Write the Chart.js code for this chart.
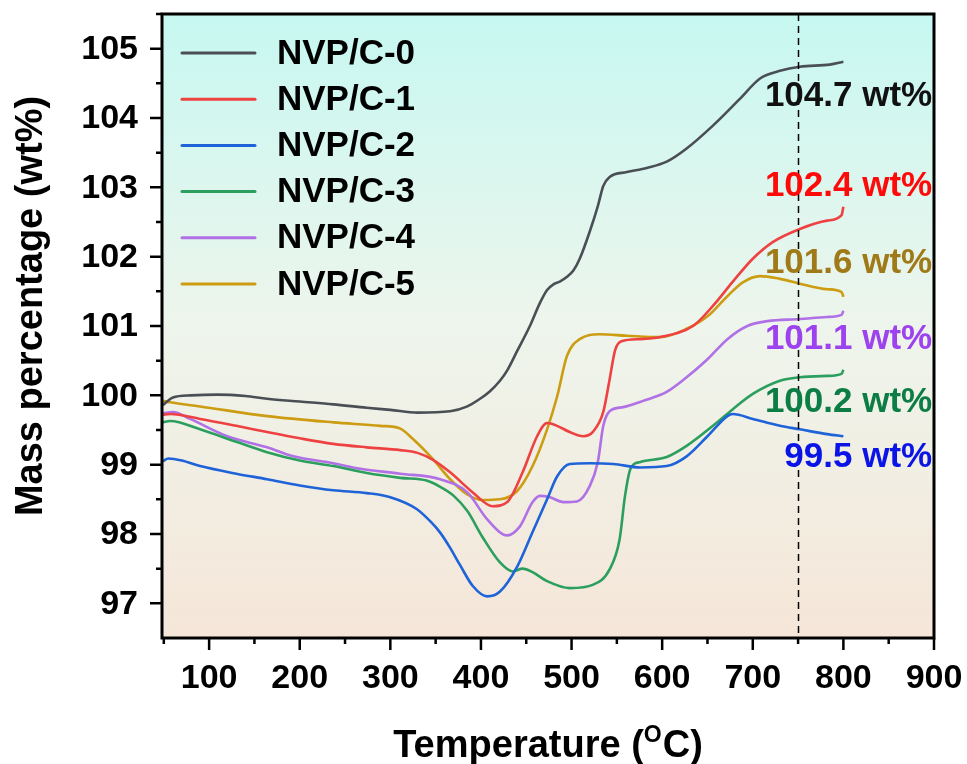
<!DOCTYPE html>
<html>
<head>
<meta charset="utf-8">
<title>TGA NVP/C</title>
<script src="https://cdn.jsdelivr.net/npm/chart.js@4.4.1/dist/chart.umd.min.js"></script>
<style>
  html, body { margin: 0; padding: 0; background: #ffffff; }
  canvas { display: block; }
</style>
</head>
<body>
<canvas id="tga" width="967" height="764"></canvas>
<script>
// series: temperature (°C) and mass (wt%)
const seriesNames = ['NVP/C-0', 'NVP/C-1', 'NVP/C-2', 'NVP/C-3', 'NVP/C-4', 'NVP/C-5'];
const seriesColors = ['#4a4f55', '#ee4242', '#1f63d9', '#2c9f5f', '#b070e6', '#cc9c12'];

const temp0 = [49, 60, 80, 109, 140, 164, 200, 237, 274, 300, 330, 366, 385, 399, 410, 421, 429, 440, 454, 465, 473, 480, 487, 495, 502, 509, 520, 529, 535, 542, 561, 583, 605, 627, 656, 686, 708, 730, 752, 785, 800];
const mass0 = [99.86, 99.97, 100.0, 100.01, 99.99, 99.95, 99.91, 99.87, 99.82, 99.79, 99.75, 99.77, 99.84, 99.95, 100.06, 100.21, 100.36, 100.64, 101.0, 101.33, 101.52, 101.60, 101.64, 101.71, 101.80, 101.97, 102.36, 102.73, 103.02, 103.15, 103.22, 103.28, 103.37, 103.56, 103.89, 104.28, 104.57, 104.68, 104.74, 104.77, 104.81];

const temp1 = [49, 57, 90, 130, 164, 200, 237, 274, 311, 330, 347, 366, 391, 413, 429, 446, 462, 473, 484, 498, 513, 524, 535, 542, 548, 555, 576, 598, 634, 656, 678, 700, 722, 752, 782, 798, 800];
const mass1 = [99.72, 99.73, 99.66, 99.56, 99.47, 99.38, 99.30, 99.25, 99.21, 99.17, 99.07, 98.89, 98.60, 98.40, 98.46, 98.89, 99.41, 99.60, 99.56, 99.47, 99.41, 99.48, 99.76, 100.23, 100.65, 100.78, 100.81, 100.84, 101.0, 101.29, 101.64, 101.97, 102.21, 102.40, 102.52, 102.60, 102.72];

const temp2 = [49, 55, 70, 90, 130, 164, 200, 237, 274, 300, 329, 345, 355, 366, 377, 391, 407, 421, 440, 457, 473, 484, 498, 520, 546, 576, 605, 627, 650, 672, 678, 700, 730, 752, 782, 800];
const mass2 = [99.05, 99.09, 99.06, 98.98, 98.87, 98.79, 98.70, 98.63, 98.59, 98.53, 98.36, 98.17, 98.02, 97.80, 97.55, 97.25, 97.10, 97.17, 97.53, 98.03, 98.50, 98.83, 99.01, 99.02, 99.01, 98.96, 98.98, 99.12, 99.41, 99.70, 99.73, 99.66, 99.56, 99.51, 99.44, 99.41];

const temp3 = [49, 57, 90, 130, 164, 200, 237, 274, 311, 340, 355, 370, 385, 402, 421, 435, 446, 457, 473, 498, 524, 542, 553, 559, 565, 576, 605, 627, 656, 678, 700, 730, 752, 782, 798, 800];
const mass3 = [99.61, 99.63, 99.51, 99.33, 99.18, 99.06, 98.98, 98.88, 98.81, 98.77, 98.68, 98.55, 98.33, 97.95, 97.59, 97.46, 97.50, 97.45, 97.32, 97.22, 97.27, 97.49, 97.92, 98.55, 98.94, 99.04, 99.11, 99.27, 99.56, 99.80, 100.02, 100.21, 100.26, 100.28, 100.31, 100.37];

const temp4 = [49, 60, 79, 120, 164, 193, 237, 267, 311, 355, 385, 407, 429, 443, 457, 465, 476, 491, 506, 520, 529, 535, 542, 557, 579, 605, 627, 650, 672, 694, 716, 752, 782, 798, 800];
const mass4 = [99.74, 99.76, 99.66, 99.41, 99.25, 99.12, 99.02, 98.94, 98.87, 98.79, 98.60, 98.21, 97.98, 98.11, 98.46, 98.55, 98.53, 98.46, 98.47, 98.69, 99.04, 99.56, 99.77, 99.83, 99.92, 100.05, 100.26, 100.52, 100.81, 101.0, 101.07, 101.10, 101.13, 101.16, 101.22];

const temp5 = [49, 57, 90, 164, 237, 289, 311, 325, 347, 366, 385, 402, 421, 440, 457, 473, 484, 495, 509, 531, 561, 598, 627, 650, 672, 689, 708, 730, 752, 782, 798, 800];
const mass5 = [99.92, 99.90, 99.84, 99.70, 99.61, 99.56, 99.52, 99.37, 99.08, 98.79, 98.57, 98.49, 98.50, 98.62, 98.98, 99.51, 99.98, 100.57, 100.81, 100.88, 100.86, 100.84, 100.96, 101.14, 101.43, 101.63, 101.72, 101.68, 101.61, 101.53, 101.49, 101.42];

const temps = [temp0, temp1, temp2, temp3, temp4, temp5];
const masses = [mass0, mass1, mass2, mass3, mass4, mass5];

// axes
const xTickLabels = [100, 200, 300, 400, 500, 600, 700, 800, 900];
const yTickLabels = [97, 98, 99, 100, 101, 102, 103, 104, 105];
const markerTemp = 750;

// end-value labels (anchored in data units, right aligned)
const endLabels = ['104.7 wt%', '102.4 wt%', '101.6 wt%', '101.1 wt%', '100.2 wt%', '99.5 wt%'];
const endLabelColors = ['#111111', '#ff0a0a', '#a07a18', '#9d42ef', '#0b7d45', '#0a14e6'];
const endLabelY = [104.31, 103.02, 101.91, 100.81, 99.90, 99.11];
const endLabelX = 898;

const FONT = '"Liberation Sans", Arial, sans-serif';

const decor = {
    id: 'decor',
    beforeDraw(chart) {
        const { ctx, chartArea: a } = chart;
        const g = ctx.createLinearGradient(0, a.top, 0, a.bottom);
        g.addColorStop(0, '#c6f8f1');
        g.addColorStop(0.5, '#eef5ec');
        g.addColorStop(1, '#f5e6d8');
        ctx.save();
        ctx.fillStyle = g;
        ctx.fillRect(a.left, a.top, a.width, a.height);
        ctx.restore();
    },
    afterDatasetsDraw(chart) {
        const { ctx, chartArea: a } = chart;
        const xs = chart.scales.x, ys = chart.scales.y;
        ctx.save();

        // dashed marker at 750 °C
        const mx = Math.round(xs.getPixelForValue(markerTemp)) + 0.5;
        ctx.strokeStyle = '#000';
        ctx.lineWidth = 1.5;
        ctx.setLineDash([7, 5]);
        ctx.beginPath();
        ctx.moveTo(mx, a.top);
        ctx.lineTo(mx, a.bottom);
        ctx.stroke();
        ctx.setLineDash([]);

        // frame
        ctx.lineWidth = 3;
        ctx.strokeRect(a.left, a.top, a.width, a.height);

        // tick marks, major + minor
        ctx.lineWidth = 2.5;
        ctx.beginPath();
        for (let v = 50; v <= 900; v += 50) {
            const px = xs.getPixelForValue(v);
            const len = v % 100 === 0 ? 12 : 6;
            ctx.moveTo(px, a.bottom);
            ctx.lineTo(px, a.bottom + len);
        }
        for (let v = 97; v <= 105.5; v += 0.5) {
            const py = ys.getPixelForValue(v);
            const len = Number.isInteger(v) ? 12 : 6;
            ctx.moveTo(a.left, py);
            ctx.lineTo(a.left - len, py);
        }
        ctx.stroke();

        // tick labels
        ctx.fillStyle = '#000';
        ctx.font = `bold 34px ${FONT}`;
        ctx.textBaseline = 'middle';
        ctx.textAlign = 'center';
        xTickLabels.forEach(v => ctx.fillText(String(v), xs.getPixelForValue(v), 679));
        ctx.textAlign = 'right';
        yTickLabels.forEach(v => ctx.fillText(String(v), a.left - 24, ys.getPixelForValue(v) + 1));

        // legend
        ctx.font = `bold 35px ${FONT}`;
        ctx.textAlign = 'left';
        chart.data.datasets.forEach((ds, i) => {
            const y = a.top + 39 + i * 46.2;
            ctx.strokeStyle = ds.borderColor;
            ctx.lineWidth = 3;
            ctx.lineCap = 'round';
            ctx.beginPath();
            ctx.moveTo(a.left + 20, y);
            ctx.lineTo(a.left + 93, y);
            ctx.stroke();
            ctx.fillStyle = '#000';
            ctx.fillText(ds.label, a.left + 115, y + 1);
        });

        // end value labels
        ctx.textAlign = 'right';
        endLabels.forEach((t, i) => {
            ctx.fillStyle = endLabelColors[i];
            ctx.fillText(t, xs.getPixelForValue(endLabelX), ys.getPixelForValue(endLabelY[i]));
        });

        // axis titles
        ctx.fillStyle = '#000';
        ctx.textBaseline = 'alphabetic';
        ctx.font = `bold 38px ${FONT}`;
        const part1 = 'Temperature (', sup = 'O', part2 = 'C)';
        const w1 = ctx.measureText(part1).width;
        const w3 = ctx.measureText(part2).width;
        ctx.font = `bold 23px ${FONT}`;
        const w2 = ctx.measureText(sup).width + 1;
        const total = w1 + w2 + w3;
        const tx = (a.left + a.right) / 2 - total / 2;
        const ty = 757;
        ctx.textAlign = 'left';
        ctx.font = `bold 38px ${FONT}`;
        ctx.fillText(part1, tx, ty);
        ctx.font = `bold 23px ${FONT}`;
        ctx.fillText(sup, tx + w1, ty - 15);
        ctx.font = `bold 38px ${FONT}`;
        ctx.fillText(part2, tx + w1 + w2, ty);

        ctx.translate(42, 306);
        ctx.rotate(-Math.PI / 2);
        ctx.textAlign = 'center';
        ctx.fillText('Mass percentage (wt%)', 0, 0);

        ctx.restore();
    }
};

new Chart(document.getElementById('tga'), {
    type: 'line',
    data: {
        datasets: seriesNames.map((name, i) => ({
            label: name,
            data: temps[i].map((t, k) => ({ x: t, y: masses[i][k] })),
            borderColor: seriesColors[i],
            borderWidth: 2.6,
            pointRadius: 0,
            fill: false,
            cubicInterpolationMode: 'monotone'
        }))
    },
    options: {
        responsive: false,
        animation: false,
        devicePixelRatio: 1,
        layout: { padding: { top: 14, right: 33, left: 0, bottom: 0 } },
        plugins: {
            legend: { display: false },
            tooltip: { enabled: false }
        },
        scales: {
            x: {
                type: 'linear',
                min: 48,
                max: 900,
                afterFit: s => { s.height = 126; },
                grid: { display: false },
                border: { display: false },
                ticks: { display: false }
            },
            y: {
                min: 96.5,
                max: 105.5,
                afterFit: s => { s.width = 162; },
                grid: { display: false },
                border: { display: false },
                ticks: { display: false }
            }
        }
    },
    plugins: [decor]
});
</script>
</body>
</html>
